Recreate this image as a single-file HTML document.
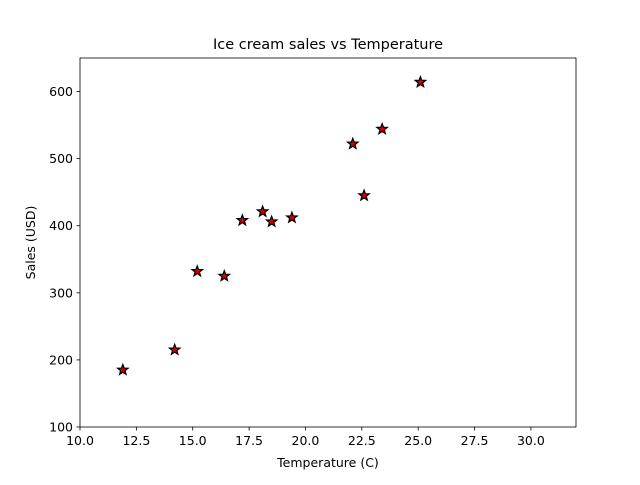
<!DOCTYPE html>
<html><head><meta charset="utf-8"><style>
body{margin:0;background:#fff;}
svg text{font-family:"DejaVu Sans","Liberation Sans",sans-serif;fill:#000;}
</style></head><body>
<svg id="chart" width="640" height="480" xmlns="http://www.w3.org/2000/svg">
<rect width="640" height="480" fill="#fff"/>
<g id="marks"></g>
<rect x="80" y="58" width="496" height="369" fill="none" stroke="#000" stroke-width="0.8"/>
<g id="axes"></g>
<text x="328" y="49" font-size="14.5" text-anchor="middle">Ice cream sales vs Temperature</text>
<text x="328" y="467" font-size="12.5" text-anchor="middle">Temperature (C)</text>
<text transform="translate(35,242.5) rotate(-90)" font-size="12.5" text-anchor="middle">Sales (USD)</text>
</svg>
<script>
const temperatures = [14.2, 16.4, 11.9, 15.2, 18.5, 22.1, 19.4, 25.1, 23.4, 18.1, 22.6, 17.2];
const sales = [215, 325, 185, 332, 406, 522, 412, 614, 544, 421, 445, 408];
const xTicks = [10.0, 12.5, 15.0, 17.5, 20.0, 22.5, 25.0, 27.5, 30.0];
const yTicks = [100, 200, 300, 400, 500, 600];

const L=80,R=576,T=58,B=427, xMin=10, xMax=32, yMin=100, yMax=650;
const xs=v=>L+(v-xMin)/(xMax-xMin)*(R-L);
const ys=v=>B-(v-yMin)/(yMax-yMin)*(B-T);
const NS="http://www.w3.org/2000/svg";
const axes=document.getElementById('axes'), marks=document.getElementById('marks');
function mk(tag,attrs,parent){const e=document.createElementNS(NS,tag);for(const k in attrs)e.setAttribute(k,attrs[k]);parent.appendChild(e);return e;}
xTicks.forEach(t=>{
  const x=xs(t);
  const l=mk('line',{x1:x,x2:x,y1:B,y2:B+3.5,stroke:'#000','stroke-width':0.8},axes);
  
  
  const tx=mk('text',{x:x,y:B+18,'font-size':12.5,'text-anchor':'middle'},axes);
  tx.textContent=t.toFixed(1);
  
  
});
yTicks.forEach(t=>{
  const y=ys(t);
  const l=mk('line',{x1:L-3.5,x2:L,y1:y,y2:y,stroke:'#000','stroke-width':0.8},axes);
  
  
  const tx=mk('text',{x:L-7,y:y+4.5,'font-size':12.5,'text-anchor':'end'},axes);
  tx.textContent=t;
  
  
});
function star(cx,cy,r){let p=[];for(let i=0;i<10;i++){const a=-Math.PI/2+i*Math.PI/5;const rr=i%2?r*0.42:r;p.push((cx+rr*Math.cos(a)).toFixed(2)+','+(cy+rr*Math.sin(a)).toFixed(2));}return p.join(' ');}
temperatures.forEach((t,i)=>{
  const p=mk('polygon',{points:star(xs(t),ys(sales[i]),5.5),fill:'#d00000',stroke:'#000','stroke-width':1.2,'stroke-linejoin':'miter'},marks);
  
  
});
</script>
</body></html>
